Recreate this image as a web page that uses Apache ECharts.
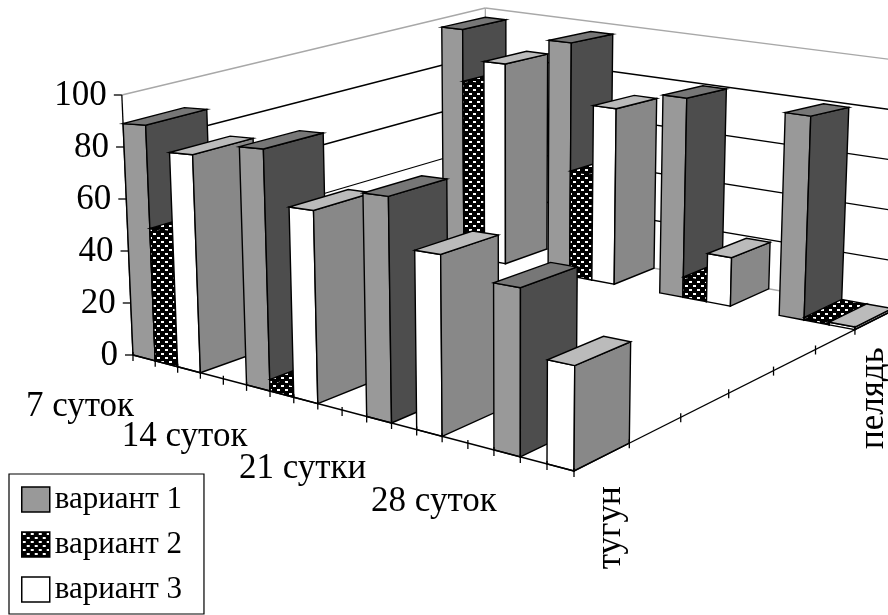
<!DOCTYPE html>
<html><head><meta charset="utf-8">
<style>html,body{margin:0;padding:0;background:#fff}#c{width:888px;height:615px}</style>
<script src="https://cdn.jsdelivr.net/npm/echarts@6/dist/echarts.min.js"></script>
</head><body><div id="c"></div>
<script>
const periods = ['7 суток','14 суток','21 сутки','28 суток'];
const species = ['тугун','','','','','','пелядь'];
const variants = ['вариант 1','вариант 2','вариант 3'];
const yTicks = [0,20,40,60,80,100];
const tugun1 = [89,84,73,51];
const tugun2 = [50,4,0,0];
const tugun3 = [79.5,65,57,31];
const pelyad1 = [96,95.5,79,78.5];
const pelyad2 = [74,43,8,1];
const pelyad3 = [83.5,71,19,1];

// layout: 18 slots along the front edge, 7 along the side
const SLOTS=18, ROWS=7, groupStart=[0,5,10,15];
const L=[133,355],F=[574,471],B=[486,238],R=[892,311];
const VP=[513,9200];
const HS={L:2.6,F:3.4,B:2.3,R:2.5}; // pixels per unit of value at the floor corners
function quad(){
  const [x0,y0]=L,[x1,y1]=F,[x3,y3]=B,[x2,y2]=R;
  const dx1=x1-x2,dx2=x3-x2,sx=x0-x1+x2-x3,dy1=y1-y2,dy2=y3-y2,sy=y0-y1+y2-y3;
  const den=dx1*dy2-dx2*dy1;
  const g=(sx*dy2-dx2*sy)/den,h=(dx1*sy-sx*dy1)/den;
  return [x1-x0+g*x1,x3-x0+h*x3,x0,y1-y0+g*y1,y3-y0+h*y3,y0,g,h,1];
}
const M=quad();
const G2=-0.177;
function warp(t,v){const G1=-0.107-0.05*v;const w=(1+G1)*t/(1+G1*t);return w/(1+G2-G2*w);}
function P(ut,v,h){
  const u=warp(ut,v);
  const w=M[6]*u+M[7]*v+1;
  const x=(M[0]*u+M[1]*v+M[2])/w,y=(M[3]*u+M[4]*v+M[5])/w;
  const s=HS.L*(1-u)*(1-v)+HS.F*u*(1-v)+HS.B*(1-u)*v+HS.R*u*v;
  const d=h*s;
  return [x-d*(VP[0]-x)/(VP[1]-y),y-d];
}
const pc=document.createElement('canvas');pc.width=8;pc.height=8;
const g=pc.getContext('2d');g.fillStyle='#000';g.fillRect(0,0,8,8);g.fillStyle='#fff';g.fillRect(1,1,3,2);g.fillRect(5,5,3,2);
const dots={image:pc,repeat:'repeat'};
const faces=[
 {front:'#999999',side:'#4d4d4d',top:'#777777'},
 {front:dots,side:dots,top:dots},
 {front:'#ffffff',side:'#888888',top:'#bbbbbb'}];

const GW=180,GH=100;
function seriesData(a,b,slot){
  const d=[];
  a.forEach((val,p)=>{ if(val>0) d.push([groupStart[p]+slot,0,val]); });
  b.forEach((val,p)=>{ if(val>0) d.push([groupStart[p]+slot,ROWS-1,val]); });
  return d;
}
function barRender(style){
  return function(params,api){
    const slot=api.value(0),row=api.value(1),val=api.value(2);
    const a=api.coord([slot,val]),b=api.coord([slot+1,0]);
    const u0=a[0]/GW,u1=b[0]/GW,h=(b[1]-a[1]),v0=row/ROWS,v1=(row+1)/ROWS;
    const z=(ROWS-row)*100+slot;
    const poly=(pts,fill)=>({type:'polygon',shape:{points:pts},z2:z,
      style:{fill:fill,stroke:'#000',lineWidth:1.4,lineJoin:'miter'}});
    return {type:'group',children:[
      poly([P(u0,v0,0),P(u1,v0,0),P(u1,v0,h),P(u0,v0,h)],style.front),
      poly([P(u1,v0,0),P(u1,v1,0),P(u1,v1,h),P(u1,v0,h)],style.side),
      poly([P(u0,v0,h),P(u1,v0,h),P(u1,v1,h),P(u0,v1,h)],style.top)
    ]};
  };
}
const FONT='35px "Liberation Serif"';
const catNudge=[-53,-62,-64,-60], rowNudge={0:[9,71],6:[0,78]};
function frameRender(params,api){
  const ch=[];
  const line=(p,q,c,z)=>ch.push({type:'line',shape:{x1:p[0],y1:p[1],x2:q[0],y2:q[1]},z2:z||0,style:{stroke:c,lineWidth:1.3}});
  const text=(t,x,y,rot,align)=>ch.push({type:'text',x:x,y:y,rotation:rot||0,z2:5000,style:{text:t,font:FONT,fill:'#000',align:align||'center',verticalAlign:'middle'}});
  yTicks.forEach(t=>{
    const c=(t===0||t===100)?'#a8a8a8':'#000';
    line(P(0,0,t),P(0,1,t),c);line(P(0,1,t),P(1,1,t),c);
    const p=P(0,0,t);
    line([p[0]-8,p[1]],[p[0],p[1]],'#000');
    text(String(t),p[0]-15,p[1]+1,0,'right');
  });
  line(P(0,1,0),P(0,1,100),'#a8a8a8');
  line(P(0,0,0),P(0,0,100),'#000');
  line(L,F,'#000',4000);line(F,R,'#000',4000);
  for(let i=0;i<=SLOTS;i++){const p=P(i/SLOTS,0,0);line([p[0],p[1]-3],[p[0],p[1]+6],'#000',4000);}
  for(let i=1;i<ROWS;i++){const p=P(1,i/ROWS,0);line([p[0],p[1]-4],[p[0],p[1]+5],'#000',4000);}
  periods.forEach((t,i)=>{const p=P(groupStart[i]/SLOTS,0,0);text(t,p[0]+catNudge[i],p[1]+52,0);});
  species.forEach((t,i)=>{ if(!t) return; const p=P(1,(i+.5)/ROWS,0);text(t,p[0]+rowNudge[i][0],p[1]+rowNudge[i][1],Math.PI/2);});
  return {type:'group',children:ch};
}
const chart=echarts.init(document.getElementById('c'),null,{renderer:'canvas'});
chart.setOption({
  animation:false,backgroundColor:'#fff',
  grid:{left:0,top:0,width:GW,height:GH,show:false},
  xAxis:{type:'value',min:0,max:SLOTS,interval:1,show:false},
  yAxis:{type:'value',min:0,max:100,interval:20,show:false},
  legend:{left:9,top:474,height:300,orient:'vertical',data:variants,icon:'rect',itemWidth:28,itemHeight:25,itemGap:14,
    padding:[10,22,9,12],borderColor:'#000',borderWidth:1.2,backgroundColor:'#fff',z:10,selectedMode:false,
    textStyle:{fontFamily:'Liberation Serif',fontSize:31,lineHeight:25,color:'#000'},
    itemStyle:{borderColor:'#000',borderWidth:1.5}},
  series:[
   {type:'custom',name:'frame',silent:true,coordinateSystem:'cartesian2d',data:[[0,0]],renderItem:frameRender,clip:false},
   {type:'custom',name:variants[0],itemStyle:{color:faces[0].front},data:seriesData(tugun1,pelyad1,0),renderItem:barRender(faces[0]),clip:false,encode:{x:0,y:2}},
   {type:'custom',name:variants[1],itemStyle:{color:dots},data:seriesData(tugun2,pelyad2,1),renderItem:barRender(faces[1]),clip:false,encode:{x:0,y:2}},
   {type:'custom',name:variants[2],itemStyle:{color:faces[2].front},data:seriesData(tugun3,pelyad3,2),renderItem:barRender(faces[2]),clip:false,encode:{x:0,y:2}}
  ]
});
</script></body></html>
